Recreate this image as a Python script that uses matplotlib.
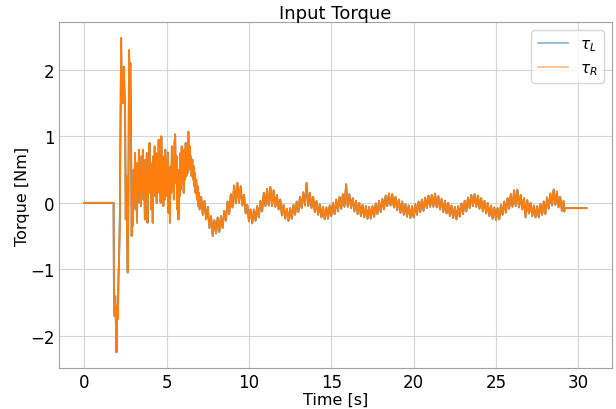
import numpy as np
import matplotlib
matplotlib.use("Agg")
import matplotlib.pyplot as plt

# flat part before the controller starts
t_start = [0.0, 1.78]
tau_start = [0.0, 0.0]

# transient, sampled every 0.04 s from 1.80 s to 7.00 s
tau_transient = [
    -1.25, -1.70, -1.40, -1.80, -2.25, -1.55, -1.75, -1.10, -0.80, -0.25,
    1.10, 2.48, 1.60, 1.95, 1.50, 2.05, 1.70, 1.35, -0.25, 0.40,
    -0.55, -1.05, 0.00, 2.30, 1.85, 2.10, 1.10, -0.50, 0.30, -0.35,
    0.50, 0.05, 0.75, -0.10, 0.60, -0.30, 0.40, 0.20, 0.80, 0.00,
    0.55, -0.05, 0.70, 0.15, 0.80, 0.05, 0.45, -0.25, 0.65, 0.10,
    0.75, -0.30, 0.50, 0.20, 0.90, 0.15, 0.60, -0.10, 0.45, -0.30,
    0.70, 0.25, 0.85, 0.10, 0.55, 0.00, 0.75, 0.20, 0.95, 0.15,
    0.65, 0.00, 1.00, 0.30, 0.70, -0.05, 0.50, 0.05, 0.80, 0.25,
    0.60, 0.10, 0.75, -0.15, 0.45, -0.30, 0.55, 0.15, 0.85, 0.20,
    0.65, 0.05, 0.90, 1.03, 0.30, 0.70, -0.10, 0.50, -0.25, 0.40,
    0.10, 0.75, 0.20, 0.85, 0.30, 0.70, 0.15, 0.80, 0.35, 0.90,
    0.40, 0.75, 0.45, 1.07, 0.60, 0.85, 0.50, 0.70, 0.40, 0.65,
    0.35, 0.55, 0.25, 0.45, 0.15, 0.35, 0.05, 0.25, -0.05, 0.15,
    -0.10,
]

# settling oscillation, sampled every 0.1 s from 7.1 s to 29.1 s
tau_osc = [
    0.09, -0.18, 0.03, -0.25, -0.06, -0.38, -0.20, -0.50, -0.26, -0.46,
    -0.22, -0.44, -0.20, -0.38, -0.12, -0.27, 0.02, -0.17, 0.13, -0.07,
    0.26, -0.01, 0.30, 0.00, 0.25, -0.04, 0.12, -0.16, -0.03, -0.28,
    -0.10, -0.31, -0.10, -0.27, -0.05, -0.22, 0.03, -0.13, 0.15, -0.05,
    0.21, -0.04, 0.24, -0.05, 0.19, -0.06, 0.12, -0.10, 0.05, -0.19,
    -0.03, -0.24, -0.09, -0.27, -0.08, -0.24, -0.03, -0.18, 0.02, -0.14,
    0.09, -0.08, 0.16, -0.04, 0.30, -0.05, 0.15, -0.08, 0.09, -0.14,
    0.03, -0.18, -0.02, -0.22, -0.06, -0.25, -0.07, -0.24, -0.04, -0.20,
    0.00, -0.17, 0.05, -0.13, 0.09, -0.09, 0.13, -0.06, 0.28, -0.06,
    0.13, -0.08, 0.07, -0.13, 0.03, -0.17, 0.00, -0.20, -0.03, -0.22,
    -0.05, -0.24, -0.06, -0.24, -0.05, -0.21, -0.01, -0.17, 0.03, -0.14,
    0.06, -0.10, 0.11, -0.05, 0.14, -0.04, 0.13, -0.07, 0.09, -0.11,
    0.05, -0.15, 0.02, -0.18, -0.02, -0.21, -0.04, -0.23, -0.05, -0.22,
    -0.02, -0.18, 0.02, -0.14, 0.05, -0.12, 0.08, -0.08, 0.11, -0.06,
    0.12, -0.06, 0.14, -0.07, 0.10, -0.10, 0.06, -0.14, 0.03, -0.16,
    0.00, -0.20, -0.04, -0.23, -0.06, -0.25, -0.05, -0.21, -0.01, -0.17,
    0.03, -0.13, 0.08, -0.08, 0.12, -0.05, 0.13, -0.06, 0.11, -0.09,
    0.07, -0.13, 0.03, -0.16, 0.00, -0.20, -0.04, -0.24, -0.07, -0.26,
    -0.08, -0.25, -0.03, -0.18, 0.02, -0.15, 0.07, -0.09, 0.13, -0.06,
    0.19, -0.05, 0.20, -0.07, 0.12, -0.10, 0.07, -0.22, 0.04, -0.16,
    0.00, -0.20, -0.04, -0.22, -0.05, -0.22, -0.02, -0.18, 0.02, -0.17,
    0.08, -0.09, 0.14, -0.04, 0.20, -0.03, 0.17, -0.07, 0.09, -0.12,
    0.03,
]

# controller switched off, holding value
t_end = [29.15, 29.16, 30.5]
tau_end = [-0.13, -0.08, -0.08]

t_transient = np.linspace(1.80, 7.00, len(tau_transient))
t_osc = np.linspace(7.1, 29.1, len(tau_osc))

t = np.concatenate([t_start, t_transient, t_osc, t_end])
tau_R = np.concatenate([tau_start, tau_transient, tau_osc, tau_end])
tau_L = tau_R.copy()

plt.rcParams['font.size'] = 12

fig, ax = plt.subplots(figsize=(6.16, 4.10), dpi=100)
fig.subplots_adjust(left=0.096, right=0.993, top=0.943, bottom=0.100)

ax.plot(t, tau_L, color='C0', linewidth=1.3, label=r'$\tau_L$')
ax.plot(t, tau_R, color='C1', linewidth=1.3, label=r'$\tau_R$')

ax.set_title('Input Torque', fontsize=13, pad=3)
ax.set_xlabel('Time [s]', fontsize=11.5, labelpad=1)
ax.set_ylabel('Torque [Nm]', fontsize=11.5, labelpad=0)
ax.set_xticks([0, 5, 10, 15, 20, 25, 30])
ax.set_yticks([-2, -1, 0, 1, 2])

ax.grid(True, color='#d5d5d5', linewidth=0.8)
ax.tick_params(length=0, labelsize=12)
for s in ax.spines.values():
    s.set_color('#a0a0a0')

leg = ax.legend(loc='upper right', fontsize=11)
for line in leg.get_lines():
    line.set_alpha(0.55)
    line.set_linewidth(1.2)

plt.savefig('out.png')
